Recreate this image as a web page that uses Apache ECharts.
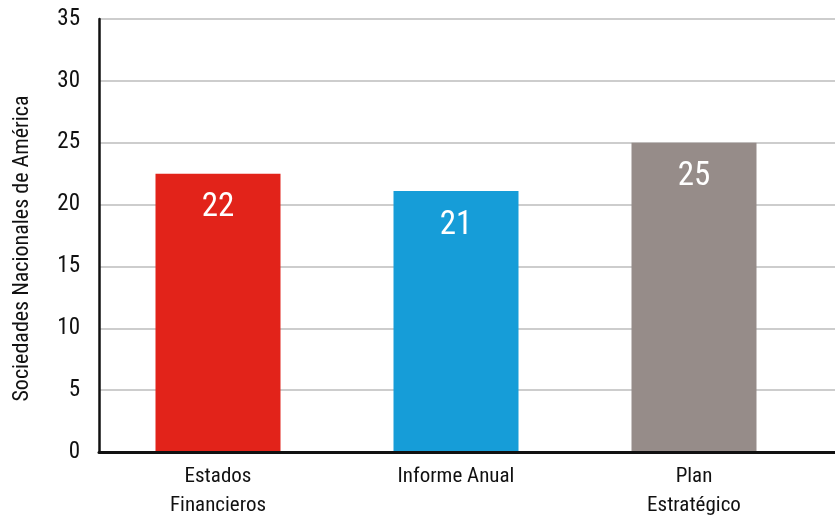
<!DOCTYPE html>
<html><head><meta charset="utf-8">
<script src="https://cdn.jsdelivr.net/npm/echarts@6/dist/echarts.min.js"></script>
<style>html,body{margin:0;padding:0;background:#fff}#c{width:835px;height:515px}</style>
</head><body><div id="c"></div>
<script>
const categories = ['Estados\nFinancieros', 'Informe Anual', 'Plan\nEstratégico'];
const values = [22.5, 21.1, 25];
const valueLabels = ['22', '21', '25'];
const colors = ['#e2231a', '#169dd8', '#968c89'];
const yTicks = [0, 5, 10, 15, 20, 25, 30, 35];
const yName = 'Sociedades Nacionales de América';

const FONT = "'Liberation Sans Narrow','Roboto Condensed','Liberation Sans',sans-serif";
const chart = echarts.init(document.getElementById('c'));
chart.setOption({
  animation: false,
  backgroundColor: '#fff',
  grid: [
    {left: 99, right: 0, top: 19, bottom: 63, containLabel: false, outerBoundsMode: 'none'},
    {left: 99, right: 22, top: 19, bottom: 63, containLabel: false, outerBoundsMode: 'none'}
  ],
  xAxis: [
    {gridIndex: 0, type: 'category', data: categories,
     axisLine: {lineStyle: {color: '#111', width: 3}}, axisTick: {show: false}, axisLabel: {show: false}, z: 5},
    {gridIndex: 1, type: 'category', data: categories,
     axisLine: {show: false}, axisTick: {show: false},
     axisLabel: {color: '#111', fontFamily: FONT, fontSize: 21, lineHeight: 29, margin: 10}}
  ],
  yAxis: [
    {gridIndex: 0, type: 'value', min: yTicks[0], max: yTicks[yTicks.length - 1], interval: 5,
     name: yName, nameLocation: 'middle', nameGap: 66,
     nameTextStyle: {color: '#111', fontFamily: FONT, fontSize: 22, padding: [0, 26, 0, 0]},
     axisLine: {show: true, lineStyle: {color: '#111', width: 2.5}}, axisTick: {show: false},
     axisLabel: {color: '#111', fontFamily: FONT, fontSize: 23, margin: 19},
     splitLine: {lineStyle: {color: '#bdbdbd', width: 1.5}}},
    {gridIndex: 1, type: 'value', min: yTicks[0], max: yTicks[yTicks.length - 1], interval: 5,
     show: false, splitLine: {show: false}}
  ],
  series: [{
    type: 'bar', xAxisIndex: 1, yAxisIndex: 1, barWidth: 125,
    data: values.map((v, i) => ({value: v, itemStyle: {color: colors[i]}})),
    label: {show: true, position: 'insideTop', distance: 18, color: '#fff',
      fontFamily: FONT, fontSize: 33,
      formatter: p => valueLabels[p.dataIndex]}
  }]
});
</script></body></html>
